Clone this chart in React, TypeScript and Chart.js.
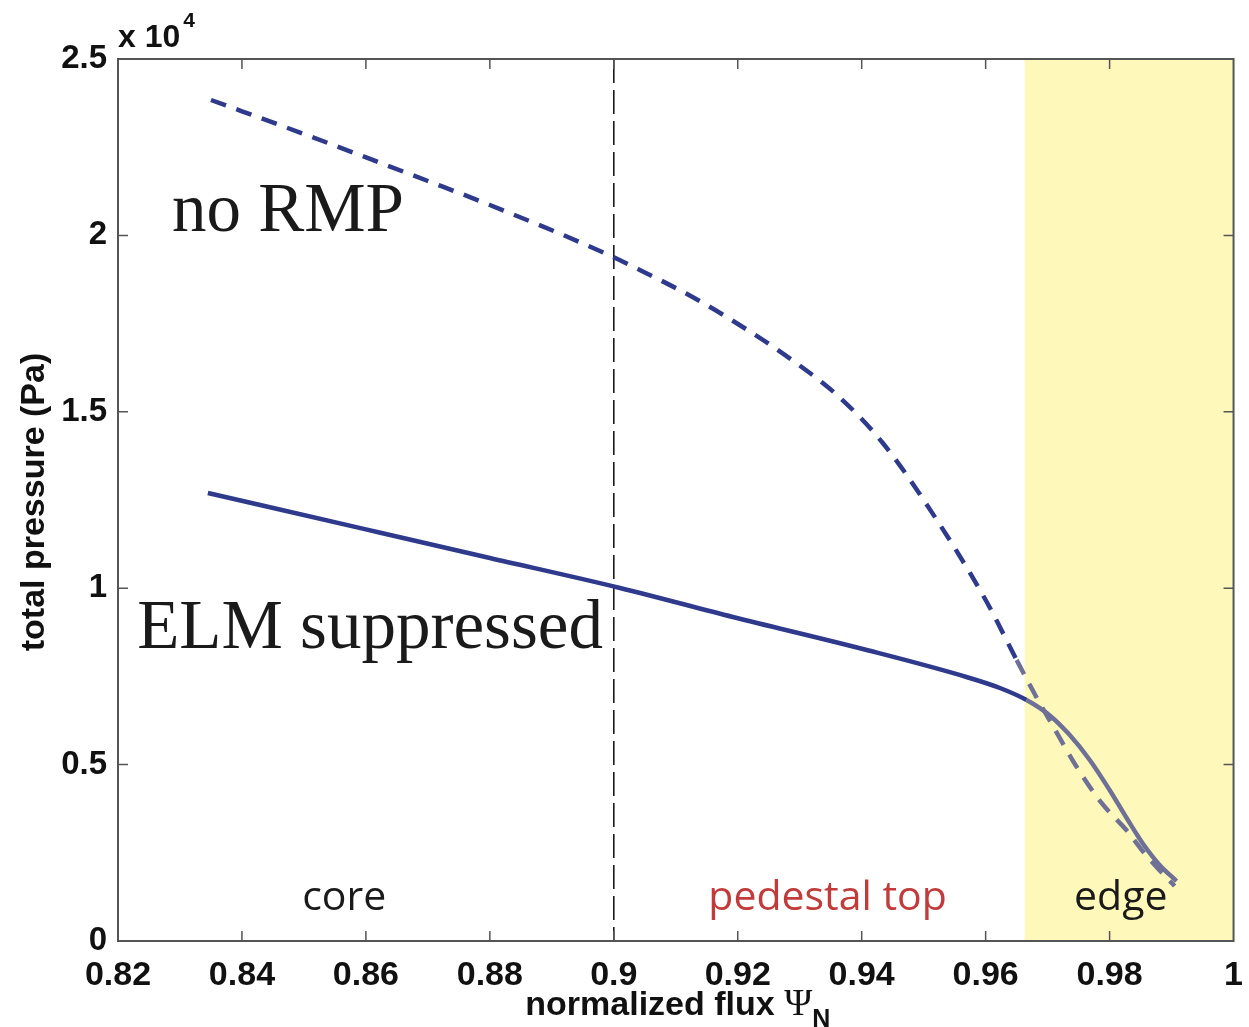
import { useEffect, useRef } from "react";
import { Chart, registerables } from "chart.js";

Chart.register(...registerables);

// ---- data ----
const psiNoRmp = [0.835, 0.85, 0.87, 0.88, 0.8985, 0.9042, 0.9127, 0.9208, 0.9289, 0.9365, 0.9434, 0.95, 0.96, 0.965, 0.9687, 0.9703, 0.9745, 0.9787, 0.9827, 0.9858, 0.9881, 0.9905];
const pressureNoRmp = [23838, 22874, 21542, 20862, 19501, 19020, 18254, 17404, 16450, 15400, 14116, 12500, 9666, 7965, 6746, 6264, 4989, 3912, 3146, 2450, 2000, 1560];

const psiElm = [0.8345, 0.86, 0.88, 0.901, 0.9192, 0.9408, 0.9569, 0.9623, 0.9666, 0.9703, 0.9735, 0.9768, 0.98, 0.9827, 0.9853, 0.9881, 0.9908];
const pressureElm = [12699, 11666, 10856, 10006, 9184, 8248, 7483, 7171, 6831, 6400, 5850, 5130, 4280, 3500, 2780, 2150, 1700];

const coreBoundary = 0.9;
const edgeStart = 0.9663;

const regionNames = ["core", "pedestal top", "edge"];
const regionX = [0.8565, 0.9345, 0.9818];
const regionY = [880, 880, 880];
const regionColors = ["#1a1a1a", "#c23b3b", "#1a1a1a"];

const curveNames = ["no RMP", "ELM suppressed"];
const curveLabelX = [0.8287, 0.8231];
const curveLabelY = [20125, 8305];

const xMin = 0.82;
const xMax = 1.0;
const xStep = 0.02;
const yMin = 0;
const yMax = 25000;
const yStep = 5000;

const BLUE = "#2f3a8c";
const GREY = "#6e7096";
const YELLOW = "#fef9bb";
const SANS = "'Liberation Sans', Arial, Helvetica, sans-serif";
const SERIF = "'Liberation Serif', 'Times New Roman', serif";

const segColor = (ctx: any) =>
  (ctx.p0.parsed.x + ctx.p1.parsed.x) / 2 >= edgeStart ? GREY : BLUE;

const fmtX = (v: number) => parseFloat(Number(v).toFixed(2)).toString();
const fmtY = (v: number) => parseFloat((Number(v) / 1e4).toFixed(2)).toString();

const decorPlugin = {
  id: "decor",
  beforeDatasetsDraw(chart: any) {
    const { ctx, chartArea, scales } = chart;
    const x = scales.x;
    ctx.save();
    const xe = x.getPixelForValue(edgeStart);
    ctx.fillStyle = YELLOW;
    ctx.fillRect(xe, chartArea.top, chartArea.right - xe, chartArea.bottom - chartArea.top);
    const xc = x.getPixelForValue(coreBoundary);
    ctx.strokeStyle = "#1a1a1a";
    ctx.lineWidth = 1.6;
    ctx.setLineDash([24, 7]);
    ctx.beginPath();
    ctx.moveTo(xc, chartArea.top);
    ctx.lineTo(xc, chartArea.bottom);
    ctx.stroke();
    ctx.restore();
  },
  afterDraw(chart: any) {
    const { ctx, chartArea, scales } = chart;
    const x = scales.x;
    const y = scales.y;
    const { left, right, top, bottom } = chartArea;
    ctx.save();
    ctx.strokeStyle = "#555";
    ctx.lineWidth = 1.5;
    const tl = 10;
    x.ticks.forEach((t: any, i: number) => {
      const px = x.getPixelForTick(i);
      if (Math.abs(px - left) < 2 || Math.abs(px - right) < 2) return;
      ctx.beginPath();
      ctx.moveTo(px, bottom);
      ctx.lineTo(px, bottom - tl);
      ctx.moveTo(px, top);
      ctx.lineTo(px, top + tl);
      ctx.stroke();
    });
    y.ticks.forEach((t: any, i: number) => {
      const py = y.getPixelForTick(i);
      if (Math.abs(py - top) < 2 || Math.abs(py - bottom) < 2) return;
      ctx.beginPath();
      ctx.moveTo(left, py);
      ctx.lineTo(left + tl, py);
      ctx.moveTo(right, py);
      ctx.lineTo(right - tl, py);
      ctx.stroke();
    });
    ctx.strokeStyle = "#555";
    ctx.lineWidth = 2;
    ctx.strokeRect(left, top, right - left, bottom - top);

    // region labels
    ctx.font = `41px 'Open Sans', 'Noto Sans', sans-serif`;
    ctx.textAlign = "center";
    ctx.textBaseline = "alphabetic";
    regionNames.forEach((n, i) => {
      ctx.fillStyle = regionColors[i];
      ctx.fillText(n, x.getPixelForValue(regionX[i]), y.getPixelForValue(regionY[i]));
    });

    // curve labels
    ctx.textAlign = "left";
    ctx.fillStyle = "#1a1a1a";
    ctx.font = `69px ${SERIF}`;
    curveNames.forEach((n, i) => {
      ctx.fillText(n, x.getPixelForValue(curveLabelX[i]), y.getPixelForValue(curveLabelY[i]));
    });

    // exponent label
    ctx.fillStyle = "#111";
    ctx.font = `bold 32px ${SANS}`;
    ctx.fillText("x 10", left, top - 12);
    const w10 = ctx.measureText("x 10").width;
    ctx.font = `bold 21px ${SANS}`;
    ctx.fillText("4", left + w10 + 3, top - 32);

    // x axis title
    const t1 = "normalized flux ";
    ctx.font = `bold 34px ${SANS}`;
    const w1 = ctx.measureText(t1).width;
    ctx.font = `38px ${SERIF}`;
    const w2 = ctx.measureText("\u03A8").width;
    ctx.font = `bold 25px ${SANS}`;
    const w3 = ctx.measureText("N").width;
    const total = w1 + w2 + w3;
    const cx = (left + right) / 2 + 2;
    let sx = cx - total / 2;
    const base = bottom + 74;
    ctx.font = `bold 34px ${SANS}`;
    ctx.fillText(t1, sx, base);
    sx += w1;
    ctx.font = `38px ${SERIF}`;
    ctx.fillText("\u03A8", sx, base);
    sx += w2;
    ctx.font = `bold 25px ${SANS}`;
    ctx.fillText("N", sx, base + 12);

    // y axis title
    ctx.save();
    ctx.translate(44, (top + bottom) / 2 + 2);
    ctx.rotate(-Math.PI / 2);
    ctx.textAlign = "center";
    ctx.font = `bold 34px ${SANS}`;
    ctx.fillText("total pressure (Pa)", 0, 0);
    ctx.restore();

    ctx.restore();
  },
};

export default function App() {
  const ref = useRef<HTMLCanvasElement>(null);
  useEffect(() => {
    const chart = new Chart(ref.current as HTMLCanvasElement, {
      type: "line",
      data: {
        datasets: [
          {
            label: "no RMP",
            data: psiNoRmp.map((p, i) => ({ x: p, y: pressureNoRmp[i] })),
            borderColor: BLUE,
            borderWidth: 4.5,
            borderDash: [16, 11],
            pointRadius: 0,
            cubicInterpolationMode: "monotone",
            segment: { borderColor: segColor },
          },
          {
            label: "ELM suppressed",
            data: psiElm.map((p, i) => ({ x: p, y: pressureElm[i] })),
            borderColor: BLUE,
            borderWidth: 4.5,
            pointRadius: 0,
            cubicInterpolationMode: "monotone",
            segment: { borderColor: segColor },
          },
        ],
      },
      options: {
        animation: false,
        responsive: false,
        devicePixelRatio: 1,
        layout: { padding: { top: 59, right: 15, left: 0, bottom: 0 } },
        plugins: { legend: { display: false }, tooltip: { enabled: false } },
        scales: {
          x: {
            type: "linear",
            min: xMin,
            max: xMax,
            grid: { display: false },
            border: { display: false },
            ticks: {
              stepSize: xStep,
              autoSkip: false,
              maxRotation: 0,
              padding: 6,
              color: "#111",
              font: { family: SANS, size: 34, weight: "bold" },
              callback: (v: any) => fmtX(v),
            },
            afterFit: (s: any) => {
              s.height = 86;
            },
          },
          y: {
            type: "linear",
            min: yMin,
            max: yMax,
            grid: { display: false },
            border: { display: false },
            ticks: {
              stepSize: yStep,
              padding: 3,
              color: "#111",
              font: { family: SANS, size: 33, weight: "bold" },
              callback: (v: any) => fmtY(v),
            },
            afterFit: (s: any) => {
              s.width = 118;
            },
          },
        },
      } as any,
      plugins: [decorPlugin],
    });
    return () => chart.destroy();
  }, []);
  return (
    <div style={{ position: "fixed", left: 0, top: 0, width: 1249, height: 1027, background: "#fff" }}>
      <canvas ref={ref} width={1249} height={1027} style={{ display: "block" }} />
    </div>
  );
}
